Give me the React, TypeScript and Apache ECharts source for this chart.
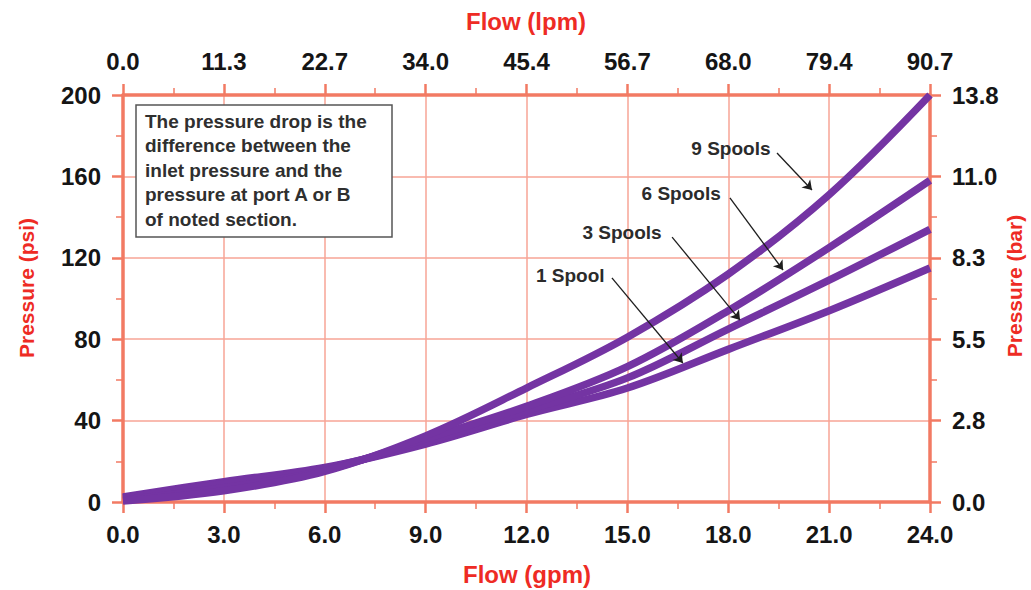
import React, { useEffect, useRef } from "react";
import * as echarts from "echarts";

// Flow (gpm) sample points
const gpm = [0, 3, 6, 9, 12, 15, 18, 21, 24];
// Pressure drop (psi) for each spool count
const spool1 = [2.5, 10, 17, 28.5, 43, 56, 75, 94, 115];
const spool3 = [2, 9, 16.5, 29.5, 45, 61, 85, 109, 134];
const spool6 = [1, 7, 15.5, 31, 47, 66.5, 94, 125, 158];
const spool9 = [0.5, 5.5, 15, 32.5, 56, 81, 112, 151, 200];

const gpmTicks = ["0.0", "3.0", "6.0", "9.0", "12.0", "15.0", "18.0", "21.0", "24.0"];
const lpmTicks = ["0.0", "11.3", "22.7", "34.0", "45.4", "56.7", "68.0", "79.4", "90.7"];
const psiTicks = ["0", "40", "80", "120", "160", "200"];
const barTicks = ["0.0", "2.8", "5.5", "8.3", "11.0", "13.8"];

const seriesNames = ["1 Spool", "3 Spools", "6 Spools", "9 Spools"];
// label anchor (gpm, psi) and arrow start/end (gpm, psi)
const labelPos = [
  [13.3, 111.5],
  [14.84, 132.2],
  [16.6, 151.4],
  [18.08, 173.5],
];
const arrowFrom = [
  [14.54, 110.1],
  [16.33, 130.2],
  [18.05, 149.4],
  [19.45, 171.5],
];
const arrowTo = [
  [16.65, 68.3],
  [18.35, 89.4],
  [19.63, 114],
  [20.49, 153.3],
];

const noteLines = [
  "The pressure drop is the",
  "difference between the",
  "inlet pressure and the",
  "pressure at port A or B",
  "of noted section.",
];

const FONT = "'Liberation Sans', Arial, Helvetica, sans-serif";
const AXIS = "#f27a63";
const GRIDC = "#f7a596";
const PURPLE = "#7434a3";
const RED = "#ee2b24";

export default function App() {
  const ref = useRef<HTMLDivElement>(null);
  useEffect(() => {
    const chart = echarts.init(ref.current!, null, { renderer: "svg" });
    const tickLabel = {
      color: "#151515",
      fontSize: 24,
      fontWeight: "bold",
      fontFamily: FONT,
    };
    const axisLine = { show: true, onZero: false, lineStyle: { color: AXIS, width: 3.5 } };
    const axisTick = { show: true, length: 11, lineStyle: { color: AXIS, width: 2.5 } };
    const minorTick = { show: true, splitNumber: 2, length: 7, lineStyle: { color: AXIS, width: 1.5 } };
    const dataSets = [spool1, spool3, spool6, spool9];

    chart.setOption({
      animation: false,
      backgroundColor: "#ffffff",
      grid: { left: 123, right: 101, top: 95, bottom: 88 },
      xAxis: [
        {
          type: "value",
          position: "bottom",
          min: 0,
          max: 24,
          interval: 3,
          axisLine,
          axisTick,
          minorTick,
          splitLine: { show: true, lineStyle: { color: GRIDC, width: 1.5 } },
          axisLabel: {
            ...tickLabel,
            margin: 20,
            formatter: (v: number) => gpmTicks[Math.round(v / 3)] ?? "",
          },
        },
        {
          type: "value",
          position: "top",
          min: 0,
          max: 24,
          interval: 3,
          axisLine,
          axisTick,
          minorTick,
          splitLine: { show: false },
          axisLabel: {
            ...tickLabel,
            margin: 22,
            formatter: (v: number) => lpmTicks[Math.round(v / 3)] ?? "",
          },
        },
      ],
      yAxis: [
        {
          type: "value",
          position: "left",
          min: 0,
          max: 200,
          interval: 40,
          axisLine,
          axisTick,
          minorTick,
          splitLine: { show: true, lineStyle: { color: GRIDC, width: 1.5 } },
          axisLabel: {
            ...tickLabel,
            margin: 22,
            formatter: (v: number) => psiTicks[Math.round(v / 40)] ?? "",
          },
        },
        {
          type: "value",
          position: "right",
          min: 0,
          max: 200,
          interval: 40,
          axisLine,
          axisTick,
          minorTick,
          splitLine: { show: false },
          axisLabel: {
            ...tickLabel,
            margin: 22,
            formatter: (v: number) => barTicks[Math.round(v / 40)] ?? "",
          },
        },
      ],
      series: [
        ...dataSets.map((d, i) => ({
          type: "line",
          name: seriesNames[i],
          xAxisIndex: 0,
          yAxisIndex: 0,
          data: gpm.map((x, j) => [x, d[j]]),
          smooth: 0.35,
          symbol: "none",
          lineStyle: { color: PURPLE, width: 7.5, cap: "butt" },
          z: 3,
        })),
        {
          type: "line",
          name: "annotations",
          xAxisIndex: 0,
          yAxisIndex: 0,
          data: [],
          z: 5,
          markLine: {
            silent: true,
            symbol: ["none", "arrow"],
            symbolSize: 9,
            lineStyle: { color: "#1e1e1e", width: 1.3, type: "solid" },
            label: { show: false },
            data: arrowFrom.map((a, i) => [{ coord: a }, { coord: arrowTo[i] }]),
          },
          markPoint: {
            silent: true,
            symbol: "circle",
            symbolSize: 0,
            label: {
              show: true,
              position: "inside",
              color: "#2b2b2b",
              fontSize: 19,
              fontWeight: "bold",
              fontFamily: FONT,
              formatter: "{b}",
            },
            data: labelPos.map((p, i) => ({ name: seriesNames[i], coord: p })),
          },
        },
      ],
      graphic: [
        {
          type: "text",
          x: 526,
          y: 21,
          style: {
            text: "Flow (lpm)",
            fill: RED,
            font: `bold 24px ${FONT}`,
            textAlign: "center",
            textVerticalAlign: "middle",
          },
        },
        {
          type: "text",
          x: 527,
          y: 574,
          style: {
            text: "Flow (gpm)",
            fill: RED,
            font: `bold 24px ${FONT}`,
            textAlign: "center",
            textVerticalAlign: "middle",
          },
        },
        {
          type: "text",
          x: 26,
          y: 288,
          rotation: Math.PI / 2,
          style: {
            text: "Pressure (psi)",
            fill: RED,
            font: `bold 21px ${FONT}`,
            textAlign: "center",
            textVerticalAlign: "middle",
          },
        },
        {
          type: "text",
          x: 1014,
          y: 286,
          rotation: Math.PI / 2,
          style: {
            text: "Pressure (bar)",
            fill: RED,
            font: `bold 21px ${FONT}`,
            textAlign: "center",
            textVerticalAlign: "middle",
          },
        },
        {
          type: "rect",
          shape: { x: 136, y: 105, width: 256, height: 132 },
          style: { fill: "#ffffff", stroke: "#555555", lineWidth: 1.5 },
          z: 10,
        },
        {
          type: "text",
          x: 145,
          y: 170,
          z: 11,
          style: {
            text: noteLines.join("\n"),
            fill: "#2f2f2f",
            font: `bold 19px ${FONT}`,
            lineHeight: 24.5,
            textAlign: "left",
            textVerticalAlign: "middle",
          },
        },
      ],
    });
    return () => chart.dispose();
  }, []);
  return (
    <div
      ref={ref}
      style={{ position: "fixed", left: 0, top: 0, width: 1031, height: 590, background: "#fff" }}
    />
  );
}
